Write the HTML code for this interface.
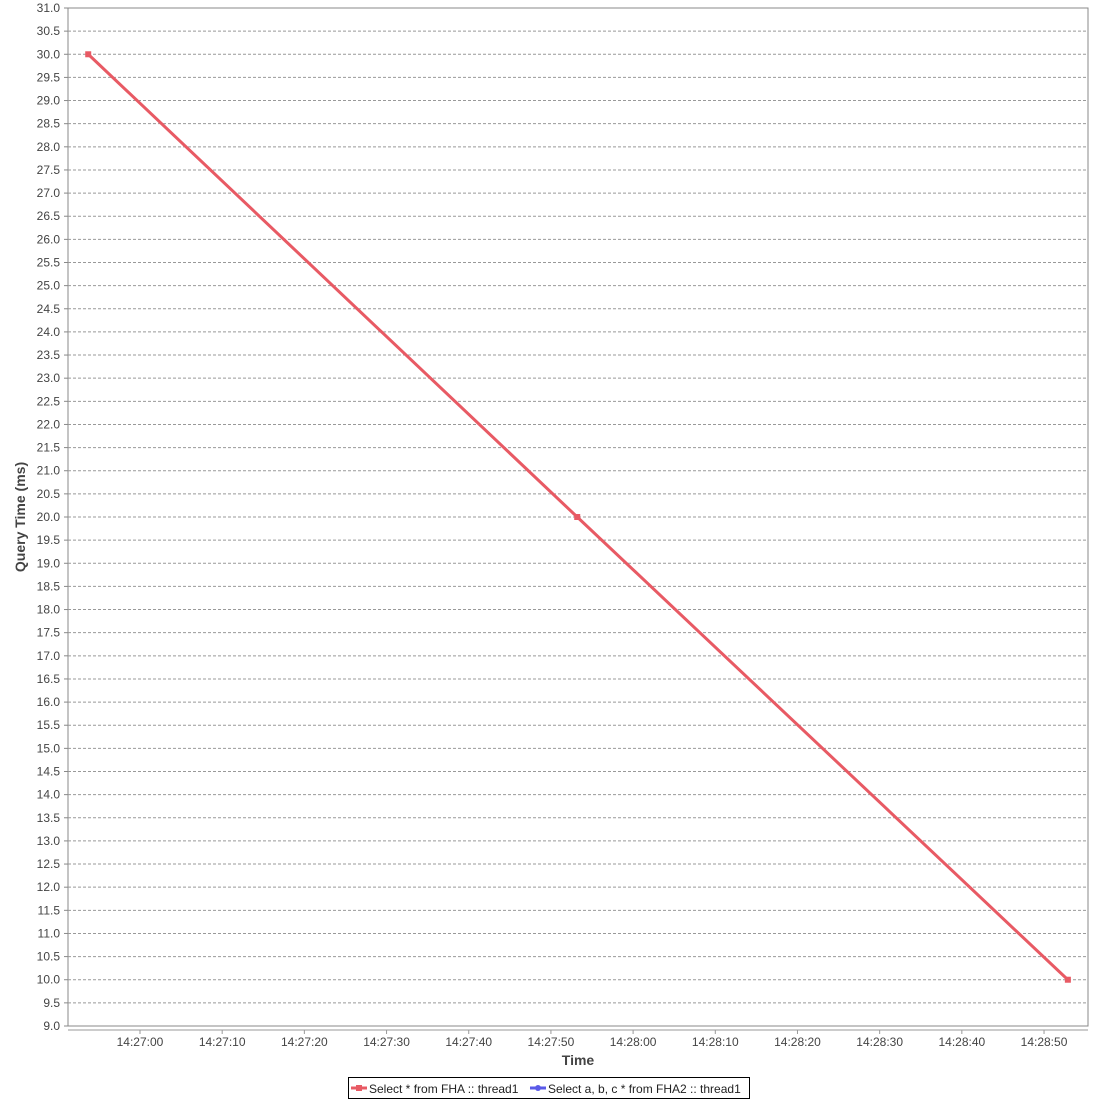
<!DOCTYPE html>
<html><head><meta charset="utf-8"><style>
body{margin:0;background:#fff;font-family:"Liberation Sans",sans-serif}
svg text{font-family:"Liberation Sans",sans-serif}
</style></head><body>
<svg id="c" width="1100" height="1100"></svg>
<script>
const times=["14:26:53.7","14:27:53.2","14:28:52.9"];
const queryValues=[30,20,10];
const xTickLabels=["14:27:00","14:27:10","14:27:20","14:27:30","14:27:40","14:27:50","14:28:00","14:28:10","14:28:20","14:28:30","14:28:40","14:28:50"];
const yMin=9,yMax=31,yStep=0.5;
const L=68,R=1088,T=8,B=1026;
const base=14*3600+27*60;
function sec(s){const p=s.split(':');return +p[0]*3600+ +p[1]*60+ +p[2]-base;}
const tMin=-8.76,tMax=115.35;
const X=t=>L+(t-tMin)/(tMax-tMin)*(R-L);
const Y=v=>B-(v-yMin)/(yMax-yMin)*(B-T);
const svg=document.getElementById('c');const NS='http://www.w3.org/2000/svg';
function el(tag,a,p){const e=document.createElementNS(NS,tag);for(const k in a)e.setAttribute(k,a[k]);(p||svg).appendChild(e);return e;}
el('rect',{x:L,y:T,width:R-L,height:B-T,fill:'#fff',stroke:'#888'});
const grid=el('g',{});


const yax=el('g',{});


for(let v=yMin;v<=yMax+1e-9;v+=yStep){
  const y=Y(v);
  if(v>yMin&&v<yMax)el('line',{x1:L,x2:R,y1:y,y2:y,stroke:'#999','stroke-dasharray':'3,2','stroke-width':1},grid);
  el('line',{x1:L-4,x2:L,y1:y,y2:y,stroke:'#888'},yax);
  const t=el('text',{x:L-8,y:y+4,'text-anchor':'end','font-size':12,fill:'#444'},yax);t.textContent=v.toFixed(1);
}
const xax=el('g',{});


el('line',{x1:L,x2:R,y1:B+4,y2:B+4,stroke:'#999'},xax);
xTickLabels.forEach(s=>{const x=X(sec(s));el('line',{x1:x,x2:x,y1:B+4,y2:B+8,stroke:'#999'},xax);
 const t=el('text',{x:x,y:B+20,'text-anchor':'middle','font-size':12,fill:'#444'},xax);t.textContent=s;});
const xt=el('text',{x:(L+R)/2,y:1065,'text-anchor':'middle','font-size':14,'font-weight':'bold',fill:'#444'});xt.textContent='Time';


const yt=el('text',{x:0,y:0,transform:'translate(25,517) rotate(-90)','text-anchor':'middle','font-size':14,'font-weight':'bold',fill:'#444'});yt.textContent='Query Time (ms)';


const pts=times.map((t,i)=>X(sec(t))+','+Y(queryValues[i])).join(' ');
const line=el('polyline',{points:pts,fill:'none',stroke:'#e85a64','stroke-width':3});


times.forEach((t,i)=>{const m=el('rect',{x:X(sec(t))-3,y:Y(queryValues[i])-3,width:6,height:6,fill:'#e85a64'});

});
const lg=el('g',{});


el('rect',{x:348.5,y:1077.5,width:401,height:21,fill:'#fff',stroke:'#000'},lg);
el('line',{x1:351,x2:367,y1:1088,y2:1088,stroke:'#e85a64','stroke-width':3},lg);
el('rect',{x:356,y:1085,width:6,height:6,fill:'#e85a64'},lg);
let t1=el('text',{x:369,y:1093,'font-size':12,fill:'#222'},lg);t1.textContent='Select * from FHA :: thread1';
el('line',{x1:530,x2:546,y1:1088,y2:1088,stroke:'#5a5ae8','stroke-width':3},lg);
el('circle',{cx:538,cy:1088,r:3,fill:'#5a5ae8'},lg);
let t2=el('text',{x:548,y:1093,'font-size':12,fill:'#222'},lg);t2.textContent='Select a, b, c * from FHA2 :: thread1';
</script>
</body></html>
